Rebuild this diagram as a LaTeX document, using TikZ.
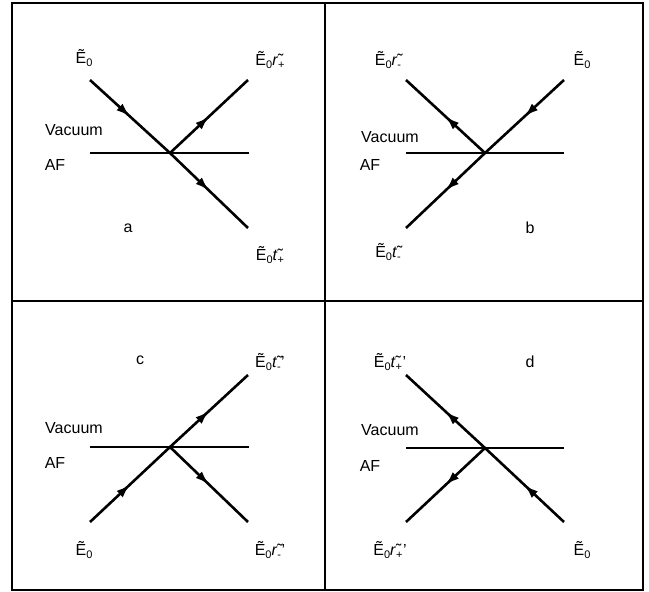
\documentclass[tikz,border=0pt]{standalone}
\usepackage{fontspec}
\setmainfont{Liberation Sans}
\usetikzlibrary{arrows.meta,decorations.markings}
\newcommand{\sub}[1]{\raisebox{-0.35ex}{\fontsize{11}{11}\selectfont #1}}
\newcommand{\Et}{\~E\sub{0}}
\newcommand{\coef}[2]{\~{\textit{#1}}\sub{#2}}
\newcommand{\coefp}[2]{\~{\textit{#1}}\sub{#2}\kern0.5pt'}
\tikzset{
  ray/.style={line width=2.6pt, postaction={decorate},
    decoration={markings, mark=at position 0.5 with {\arrow{Latex[length=14pt,width=9pt]}}}},
  iface/.style={line width=1.4pt},
  frameline/.style={line width=1.6pt},
  lbl/.style={inner sep=0pt, font=\fontsize{16}{19}\selectfont},
}
\begin{document}
\begin{tikzpicture}[x=1pt,y=-1pt]
\useasboundingbox (0,0) rectangle (649,592);
\fill[white] (0,0) rectangle (649,592);
% frame
\draw[frameline] (12,3) rectangle (643,590);
\draw[frameline] (325,3) -- (325,590);
\draw[frameline] (12,301) -- (643,301);
% ---------- panel a
\coordinate (Xa) at (170,153);
\coordinate (a1) at (90,80);
\coordinate (a2) at (248,80);
\coordinate (a3) at (248,228);
\coordinate (aL) at (90,153);
\coordinate (aR) at (249,153);
\draw[iface] (aL) -- (aR);
\draw[ray] (a1) -- (Xa);
\draw[ray] (Xa) -- (a2);
\draw[ray] (Xa) -- (a3);
\node[lbl] (aE) at (84,58) {\Et};
\node[lbl] (aR1) at (270,60) {\Et\coef{r}{+}};
\node[lbl] (aT1) at (270,255) {\Et\coef{t}{+}};
\node[lbl] (aV) at (74,130) {Vacuum};
\node[lbl] (aA) at (55,165) {AF};
\node[lbl] (aN) at (128,228) {a};
% ---------- panel b
\coordinate (Xb) at (485,153);
\coordinate (b1) at (564,80);
\coordinate (b2) at (406,80);
\coordinate (b3) at (406,228);
\coordinate (bL) at (406,153);
\coordinate (bR) at (564,153);
\draw[iface] (bL) -- (bR);
\draw[ray] (b1) -- (Xb);
\draw[ray] (Xb) -- (b2);
\draw[ray] (Xb) -- (b3);
\node[lbl] (bR1) at (388,60) {\Et\coef{r}{-}};
\node[lbl] (bE) at (582,60) {\Et};
\node[lbl] (bT1) at (388,252) {\Et\coef{t}{-}};
\node[lbl] (bV) at (390,137) {Vacuum};
\node[lbl] (bA) at (370,165) {AF};
\node[lbl] (bN) at (530,228) {b};
% ---------- panel c
\coordinate (Xc) at (170,447);
\coordinate (c1) at (90,522);
\coordinate (c2) at (248,375);
\coordinate (c3) at (248,522);
\coordinate (cL) at (90,447);
\coordinate (cR) at (249,447);
\draw[iface] (cL) -- (cR);
\draw[ray] (c1) -- (Xc);
\draw[ray] (Xc) -- (c2);
\draw[ray] (Xc) -- (c3);
\node[lbl] (cT1) at (270,362) {\Et\coefp{t}{-}};
\node[lbl] (cE) at (84,550) {\Et};
\node[lbl] (cR1) at (270,550) {\Et\coefp{r}{-}};
\node[lbl] (cV) at (74,428) {Vacuum};
\node[lbl] (cA) at (55,463) {AF};
\node[lbl] (cN) at (140,360) {c};
% ---------- panel d
\coordinate (Xd) at (485,448);
\coordinate (d1) at (564,522);
\coordinate (d2) at (406,375);
\coordinate (d3) at (406,522);
\coordinate (dL) at (406,448);
\coordinate (dR) at (564,448);
\draw[iface] (dL) -- (dR);
\draw[ray] (d1) -- (Xd);
\draw[ray] (Xd) -- (d2);
\draw[ray] (Xd) -- (d3);
\node[lbl] (dT1) at (390,362) {\Et\coefp{t}{+}};
\node[lbl] (dR1) at (390,550) {\Et\coefp{r}{+}};
\node[lbl] (dE) at (582,550) {\Et};
\node[lbl] (dV) at (390,430) {Vacuum};
\node[lbl] (dA) at (370,466) {AF};
\node[lbl] (dN) at (530,362) {d};
\end{tikzpicture}
\end{document}
